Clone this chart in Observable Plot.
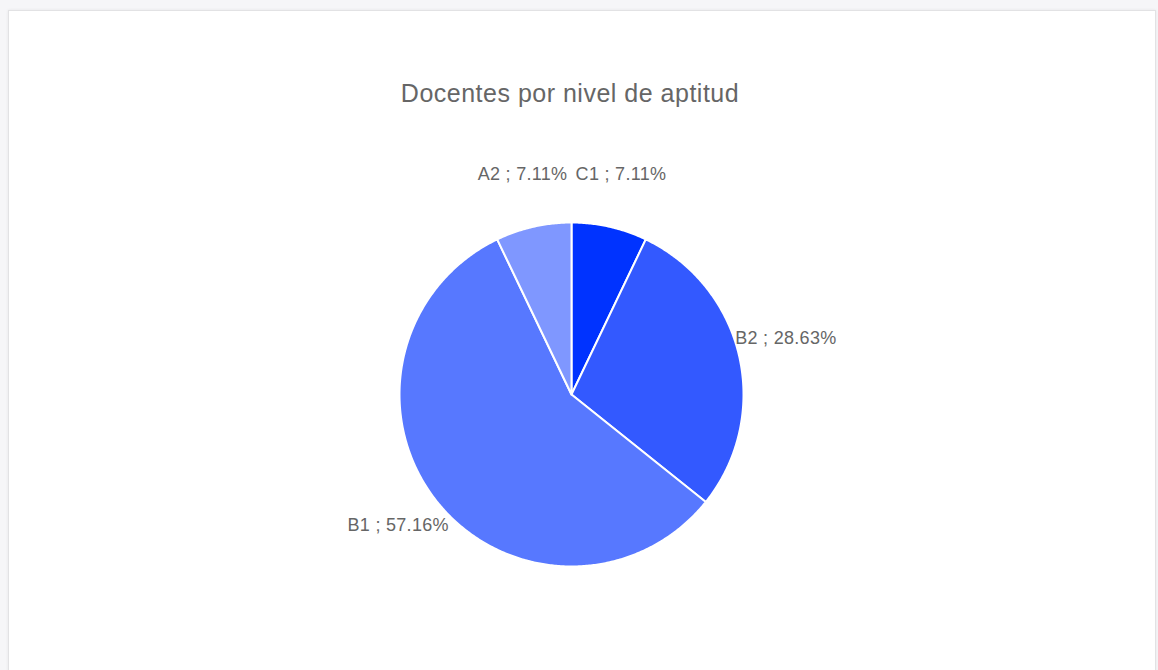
<!DOCTYPE html>
<html><head><meta charset="utf-8">
<script src="https://cdn.jsdelivr.net/npm/d3@7"></script>
<script src="https://cdn.jsdelivr.net/npm/@observablehq/plot@0.6"></script>
<style>
body{margin:0;background:#f6f6f8;width:1158px;height:670px;overflow:hidden;font-family:"Liberation Sans",Arial,sans-serif;position:relative}
#card{position:absolute;left:8px;top:10px;width:1148px;height:680px;background:#fff;border:1px solid #e2e2e4;box-shadow:0 0 3px rgba(0,0,0,0.07);box-sizing:border-box}
#title{position:absolute;left:0;top:78px;width:1140px;text-align:center;font-size:25px;letter-spacing:0.5px;color:#666;line-height:30px}
#chart{position:absolute;left:0;top:130px}
</style>
</head><body>
<div id="card"></div>
<div id="title">Docentes por nivel de aptitud</div>
<div id="chart"></div>
<script>
const categories = ["C1", "B2", "B1", "A2"];
const shares = [7.11, 28.63, 57.16, 7.11];
const colors = ["#0033ff", "#3359ff", "#5778ff", "#7f97ff"];

// label layout: pixel offsets from slice's mid-angle edge point
const labelLayout = {
  C1: {dx: -34, dy: -53, anchor: "start"},
  A2: {dx: 34, dy: -53, anchor: "end"},
  B2: {dx: -4, dy: -18, anchor: "start"},
  B1: {dx: 12, dy: 24, anchor: "end"}
};

const total = d3.sum(shares);
let acc = 0;
const slices = categories.map((c, i) => {
  const a0 = acc / total * 2 * Math.PI;
  acc += shares[i];
  const a1 = acc / total * 2 * Math.PI;
  return {key: c, share: shares[i], a0, a1, mid: (a0 + a1) / 2};
});

const poly = [];
for (const s of slices) {
  poly.push({key: s.key, x: 0, y: 0});
  const n = Math.max(2, Math.ceil((s.a1 - s.a0) / (Math.PI / 360)));
  for (let k = 0; k <= n; k++) {
    const a = s.a0 + (s.a1 - s.a0) * k / n;
    poly.push({key: s.key, x: Math.sin(a), y: Math.cos(a)});
  }
}

const labels = slices.map(s => ({
  key: s.key,
  x: Math.sin(s.mid),
  y: Math.cos(s.mid),
  text: `${s.key} ; ${s.share.toFixed(2)}%`
}));

const W = 1158, H = 540;
const plot = Plot.plot({
  width: W, height: H,
  marginLeft: 399, marginRight: 415, marginTop: 92, marginBottom: 104,
  x: {domain: [-1, 1], axis: null},
  y: {domain: [-1, 1], axis: null},
  color: {domain: categories, range: colors},
  style: {fontFamily: '"Liberation Sans", Arial, sans-serif', background: "transparent", overflow: "visible", letterSpacing: "0.3px"},
  marks: [
    Plot.line(poly, {x: "x", y: "y", z: "key", fill: "key", stroke: "#fff", strokeWidth: 2, curve: "linear-closed", strokeLinejoin: "round"}),
    ...labels.map(l => Plot.text([l], {
      x: "x", y: "y", text: "text",
      dx: labelLayout[l.key].dx, dy: labelLayout[l.key].dy,
      textAnchor: labelLayout[l.key].anchor,
      fill: "#666", fontSize: 18
    }))
  ]
});
document.getElementById("chart").appendChild(plot);
</script>
</body></html>
